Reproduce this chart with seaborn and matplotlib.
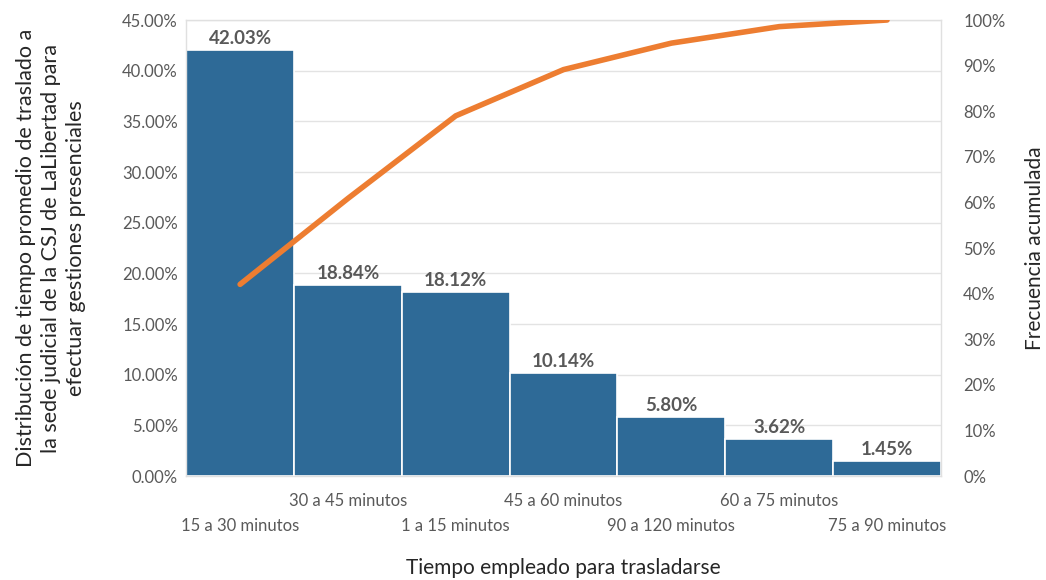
import matplotlib
matplotlib.use("Agg")
import matplotlib.pyplot as plt
import seaborn as sns
import numpy as np
import pandas as pd
from matplotlib.ticker import FuncFormatter, MultipleLocator

categorias = ["15 a 30 minutos", "30 a 45 minutos", "1 a 15 minutos", "45 a 60 minutos",
              "90 a 120 minutos", "60 a 75 minutos", "75 a 90 minutos"]
porcentajes = [42.03, 18.84, 18.12, 10.14, 5.80, 3.62, 1.45]
acumulado = [42.03, 60.87, 78.99, 89.13, 94.93, 98.55, 100.00]

sns.set_theme(style="white")
plt.rcParams['font.family'] = ['Lato', 'DejaVu Sans']

BAR = "#2E6A97"
ORANGE = "#ED7D31"
GRAY = "#595959"

fig = plt.figure(figsize=(10.46, 5.8), dpi=100)
ax = fig.add_axes([0.178, 0.1793, 0.7216, 0.7862])

df = pd.DataFrame({"cat": categorias, "pct": porcentajes})
sns.barplot(data=df, x="cat", y="pct", color=BAR, width=1.0, edgecolor="white",
            linewidth=1.2, saturation=1, ax=ax, zorder=2)
ax.set_xlim(-0.5, 6.5)
ax.set_ylim(0, 45)
ax.yaxis.set_major_locator(MultipleLocator(5))
ax.yaxis.set_major_formatter(FuncFormatter(lambda v, p: f"{v:.2f}%"))
ax.grid(axis="y", color="#E3E3E3", linewidth=1, zorder=0)
ax.set_axisbelow(True)
for s in ax.spines.values():
    s.set_color("#E0E0E0")
    s.set_linewidth(1)
ax.tick_params(axis="y", colors=GRAY, labelsize=12, length=0, pad=6)

for i, v in enumerate(porcentajes):
    ax.text(i, v + 0.3, f"{v:.2f}%", ha="center", va="bottom", fontsize=13.5,
            fontweight="bold", color=GRAY, zorder=4)

ax.set_xticks(range(len(categorias)))
ax.set_xticklabels([])
ax.tick_params(axis="x", length=0)
for i, c in enumerate(categorias):
    yoff = -0.037 if i % 2 == 1 else -0.092
    ax.text(i, yoff, c, transform=ax.get_xaxis_transform(), ha="center", va="top",
            fontsize=12, color=GRAY)

ax.set_xlabel("")
ax.set_ylabel("Distribución de tiempo promedio de traslado a\nla sede judicial de la CSJ de LaLibertad para\nefectuar gestiones presenciales",
              fontsize=15.5, color="#262626", labelpad=26, linespacing=1.3)
fig.text(0.5 * (0.178 + 0.8996), 0.004, "Tiempo empleado para trasladarse",
         ha="center", va="bottom", fontsize=15, color="#262626")

ax2 = ax.twinx()
sns.lineplot(x=list(range(len(acumulado))), y=acumulado, color=ORANGE, linewidth=4,
             ax=ax2, zorder=5)
ax2.set_ylim(0, 100)
ax2.yaxis.set_major_locator(MultipleLocator(10))
ax2.yaxis.set_major_formatter(FuncFormatter(lambda v, p: f"{v:.0f}%"))
ax2.tick_params(axis="y", colors=GRAY, labelsize=12, length=0, pad=16)
for s in ax2.spines.values():
    s.set_visible(False)
ax2.set_ylabel("Frecuencia acumulada", fontsize=15, color="#262626", labelpad=14)
ax2.grid(False)

fig.savefig("out.png", dpi=100)
